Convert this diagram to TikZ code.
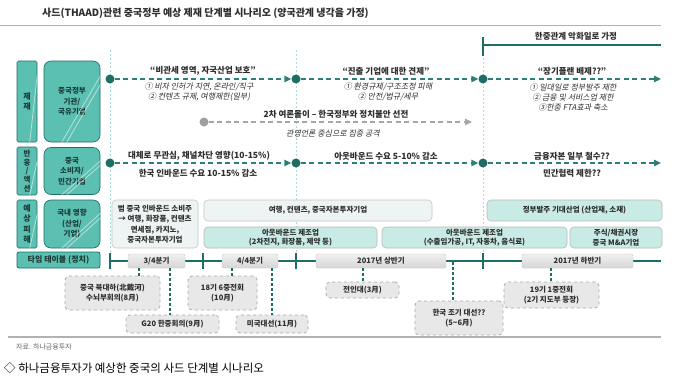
\documentclass[tikz,border=0pt]{standalone}
\usepackage{fontspec}
\setmainfont{Noto Sans CJK KR}[AutoFakeSlant=0.2]
\usetikzlibrary{arrows.meta,calc}
\definecolor{tealbox}{HTML}{5BBFB2}
\definecolor{tealdark}{HTML}{1F6E66}
\definecolor{tealarrow}{HTML}{2B7F76}
\definecolor{tealpale}{HTML}{C8EBE5}
\definecolor{palebox}{HTML}{EEF4F3}
\definecolor{vline}{HTML}{A6DCDC}
\definecolor{txt}{HTML}{2E2E2E}
\definecolor{boxtxt}{HTML}{1C3A36}
\begin{document}
\begin{tikzpicture}[x=1pt,y=-1pt,
  lbl/.style={draw=tealdark, fill=tealbox, line width=0.6pt, rounded corners=1.5pt, inner sep=0pt, minimum width=20pt, font=\bfseries\fontsize{8}{10}\selectfont, text=boxtxt, align=center},
  wbox/.style={draw=tealdark, fill=tealbox, line width=0.6pt, rounded corners=7pt, inner sep=0pt, minimum width=56pt, font=\bfseries\fontsize{7.5}{10.5}\selectfont, text=boxtxt, align=center},
  tbox/.style={draw=tealdark, fill=tealbox, line width=0.8pt, rounded corners=2pt, inner sep=0pt, minimum width=83pt, minimum height=16pt, font=\bfseries\fontsize{8}{9}\selectfont, text=boxtxt},
  gloss/.style={white, opacity=0.55, line width=0.8pt},
  head/.style={font=\bfseries\fontsize{8.5}{10}\selectfont, text=txt, inner sep=0pt},
  ital/.style={font=\itshape\fontsize{8}{9}\selectfont, text=txt, inner sep=0pt},
  dotn/.style={circle, fill=tealdark, inner sep=0pt, minimum size=9pt},
  gdot/.style={circle, fill=gray!75, inner sep=0pt, minimum size=9pt},
  darr/.style={tealarrow, line width=1.4pt, dash pattern=on 5pt off 3.5pt, -{Triangle[length=7pt,width=6.5pt]}},
  garr/.style={gray!70, line width=1.4pt, dash pattern=on 5pt off 3.5pt, -{Triangle[length=7pt,width=6.5pt]}},
  vdash/.style={vline, line width=1pt, dash pattern=on 2pt off 2pt},
  tl/.style={tealdark, line width=1.5pt},
  conn/.style={tealdark, line width=1.5pt, dash pattern=on 3pt off 2pt},
  pbox/.style={draw=gray!45, top color=gray!12, bottom color=gray!32, rounded corners=2pt, inner sep=0pt, minimum height=14pt, font=\bfseries\fontsize{7.5}{9}\selectfont, text=txt},
  ebox/.style={draw=gray!65, dashed, fill=gray!18, rounded corners=4pt, line width=0.8pt, inner sep=0pt, font=\bfseries\fontsize{7.5}{10.5}\selectfont, text=txt, align=center},
  rpale/.style={draw=gray!45, fill=palebox, rounded corners=4pt, line width=0.6pt, inner sep=0pt, font=\bfseries\fontsize{7.5}{10.5}\selectfont, text=txt, align=center},
  rteal/.style={draw=gray!55, fill=tealpale, rounded corners=4pt, line width=0.6pt, inner sep=0pt, font=\bfseries\fontsize{7.5}{9.5}\selectfont, text=txt, align=center},
  rule/.style={gray!60, line width=0.8pt}
]
\fill[white] (0,0) rectangle (680,380);
\useasboundingbox (0,0) rectangle (680,380);

% title
\node[font=\bfseries\fontsize{10}{12}\selectfont, text=txt, anchor=west, inner sep=0pt] (title) at (42,13) {사드(THAAD)관련 중국정부 예상 제재 단계별 시나리오 (양국관계 냉각을 가정)};
\coordinate (ra) at (0,25); \coordinate (rb) at (661,25);
\draw[rule] (ra) -- (rb);

% bracket
\coordinate (bk0) at (483,45); \coordinate (bk1) at (661,45);
\coordinate (bkt) at (483,37); \coordinate (bkb) at (483,56);
\draw[tl] (bk0) -- (bk1);
\draw[tl] (bkt) -- (bkb);
\node[font=\bfseries\fontsize{8.5}{10}\selectfont, text=txt, inner sep=0pt] (worse) at (576,36) {한중관계 악화일로 가정};

% vertical dashed guides
\coordinate (vt1) at (110,50); \coordinate (vb1) at (110,253);
\coordinate (vt2) at (296,50); \coordinate (vb2) at (296,253);
\coordinate (vt3) at (483,58); \coordinate (vb3) at (483,253);
\draw[vdash] (vt1) -- (vb1);
\draw[vdash] (vt2) -- (vb2);
\draw[vdash] (vt3) -- (vb3);

% left column
\node[lbl, minimum height=81pt] (L1) at (27,101.5) {제\\재};
\node[wbox, minimum height=81pt] (W1) at (72,101.5) {중국정부\\기관/\\국유기업};
\node[lbl, minimum height=48pt, font=\bfseries\fontsize{7.5}{8.8}\selectfont] (L2) at (27,171) {반\\응\\/\\액\\션};
\node[wbox, minimum height=47pt] (W2) at (72,171) {중국\\소비자/\\민간기업};
\node[lbl, minimum height=48pt, font=\bfseries\fontsize{8}{10.5}\selectfont] (L3) at (27,224) {예\\상\\피\\해};
\node[wbox, minimum height=48pt] (W3) at (72,224) {국내 영향\\(산업/\\기업)};
\node[tbox] (TT) at (58.5,260) {타임 테이블 (정치)};

% gloss stripes
\foreach \n in {W1,W2,W3}{
  \begin{scope}
    \clip[rounded corners=7pt] (\n.south west) rectangle (\n.north east);
    \draw[gloss] ($(\n.south west)+(18,0)$) -- ($(\n.north east)+(2,12)$);
    \draw[gloss] ($(\n.south west)+(23,0)$) -- ($(\n.north east)+(7,12)$);
  \end{scope}
}
\foreach \n in {L1,L2,L3}{
  \begin{scope}
    \clip (\n.south west) rectangle (\n.north east);
    \draw[gloss] ($(\n.south west)+(13,0)$) -- ($(\n.north east)+(0,14)$);
  \end{scope}
}

% row 1
\node[dotn] (D11) at (110,79) {};
\node[dotn] (D12) at (296,79) {};
\node[dotn] (D13) at (483,79) {};
\coordinate (E1) at (661,79);
\draw[darr] (D11) -- (D12);
\draw[darr] (D12) -- (D13);
\draw[darr] (D13) -- (E1);
\node[head] (h11) at (203,71) {“비관세 영역, 자국산업 보호”};
\node[ital] (i11) at (199,87) {① 비자 인허가 지연, 온라인/직구};
\node[ital] (i12) at (199,97) {② 컨텐츠 규제, 여행제한(일부)};
\node[head] (h12) at (386,71) {“진출 기업에 대한 견제”};
\node[ital] (i13) at (388,87) {① 환경규제/구조조정 피해};
\node[ital] (i14) at (388,97) {② 안전/법규/세무};
\node[head] (h13) at (572,71) {“장기플랜 배제??”};
\node[ital] (i15) at (573,87) {① 일대일로 정부발주 제한};
\node[ital] (i16) at (573,97) {② 금융 및 서비스업 제한};
\node[ital] (i17) at (573,107) {③한중 FTA효과 축소};

% gray line
\node[gdot] (G1) at (204,122) {};
\coordinate (GE) at (472,122);
\draw[garr] (G1) -- (GE);
\node[head] (g1) at (336,114) {2차 여론몰이 – 한국정부와 정치불안 선전};
\node[ital] (g2) at (333,133) {관영언론 중심으로 집중 공격};

% row 2
\node[dotn] (D21) at (110,163) {};
\node[dotn] (D22) at (296,163) {};
\node[dotn] (D23) at (483,163) {};
\coordinate (E2) at (661,163);
\draw[darr] (D21) -- (D22);
\draw[darr] (D22) -- (D23);
\draw[darr] (D23) -- (E2);
\node[head] (h21) at (199,156) {대체로 무관심, 채널차단 영향(10-15\%)};
\node[head] (h22) at (198,173) {한국 인바운드 수요 10-15\% 감소};
\node[head] (h23) at (386,156) {아웃바운드 수요 5-10\% 감소};
\node[head] (h24) at (572,156) {금융자본 일부 철수??};
\node[head] (h25) at (572,173) {민간협력 제한??};

% row 3
\node[rpale, minimum width=86pt, minimum height=48pt] (R1) at (155,224) {범 중국 인바운드 소비주\\→ 여행, 화장품, 컨텐츠\\면세점, 카지노,\\중국자본투자기업};
\node[rpale, minimum width=228pt, minimum height=21pt] (R2) at (318,210.5) {여행, 컨텐츠, 중국자본투자기업};
\node[rteal, minimum width=173pt, minimum height=21pt] (R3) at (290.5,237.5) {아웃바운드 제조업\\(2차전지, 화장품, 제약 등)};
\node[rteal, minimum width=175pt, minimum height=21pt] (R4) at (574.5,210.5) {정부발주 기대산업 (산업재, 소재)};
\node[rteal, minimum width=185pt, minimum height=21pt] (R5) at (474.5,237.5) {아웃바운드 제조업\\(수출임가공, IT, 자동차, 음식료)};
\node[rteal, minimum width=92pt, minimum height=21pt] (R6) at (616,237.5) {주식/채권시장\\중국 M\&A기업};

% timeline
\coordinate (T0) at (110,261); \coordinate (T1) at (661,261);
\draw[tl] (T0) -- (T1);
\foreach \x [count=\i] in {110,203,296,483}{
  \coordinate (tk\i a) at (\x,253); \coordinate (tk\i b) at (\x,269);
  \draw[tl] (tk\i a) -- (tk\i b);
}
\node[pbox, minimum width=57pt] (P1) at (156.5,261) {3/4분기};
\node[pbox, minimum width=56pt] (P2) at (250,261) {4/4분기};
\node[pbox, minimum width=130pt] (P3) at (381,261) {2017년 상반기};
\node[pbox, minimum width=111pt] (P4) at (577.5,261) {2017년 하반기};

% events
\node[ebox, minimum width=95pt, minimum height=34pt] (V1) at (112.5,293) {중국 북대하(北戴河)\\수뇌부회의(8月)};
\node[ebox, minimum width=93pt, minimum height=18pt] (V2) at (172.5,324) {G20 한중회의(9月)};
\node[ebox, minimum width=69pt, minimum height=34pt] (V3) at (222.5,293) {18기 6중전회\\(10月)};
\node[ebox, minimum width=72pt, minimum height=18pt] (V4) at (272,324) {미국대선(11月)};
\node[ebox, minimum width=73pt, minimum height=16pt] (V5) at (362.5,290) {전인대(3月)};
\node[ebox, minimum width=88pt, minimum height=34pt] (V6) at (459,318) {한국 조기 대선??\\(5\textasciitilde 6月)};
\node[ebox, minimum width=95pt, minimum height=26pt] (V7) at (551.5,295) {19기 1중전회\\(2기 지도부 등장)};

\coordinate (c1) at (139,268); \draw[conn] (c1) -- (c1 |- V1.north);
\coordinate (c2) at (170,268); \draw[conn] (c2) -- (c2 |- V2.north);
\coordinate (c3) at (232,268); \draw[conn] (c3) -- (c3 |- V3.north);
\coordinate (c4) at (272,268); \draw[conn] (c4) -- (c4 |- V4.north);
\coordinate (c5) at (363,268); \draw[conn] (c5) -- (c5 |- V5.north);
\coordinate (c6) at (453,262); \draw[conn] (c6) -- (c6 |- V6.north);
\coordinate (c7) at (551,268); \draw[conn] (c7) -- (c7 |- V7.north);

% bottom
\coordinate (ba) at (8,337); \coordinate (bb) at (661,337);
\draw[gray!60, line width=1.6pt] (ba) -- (bb);
\node[font=\fontsize{7}{8}\selectfont, text=gray!80!black, anchor=west, inner sep=0pt] (src) at (16,347) {자료: 하나금융투자};
\node[font=\fontsize{11.5}{13}\selectfont, text=black, anchor=west, inner sep=0pt] (cap) at (4,368) {◇ 하나금융투자가 예상한 중국의 사드 단계별 시나리오};
\end{tikzpicture}
\end{document}
